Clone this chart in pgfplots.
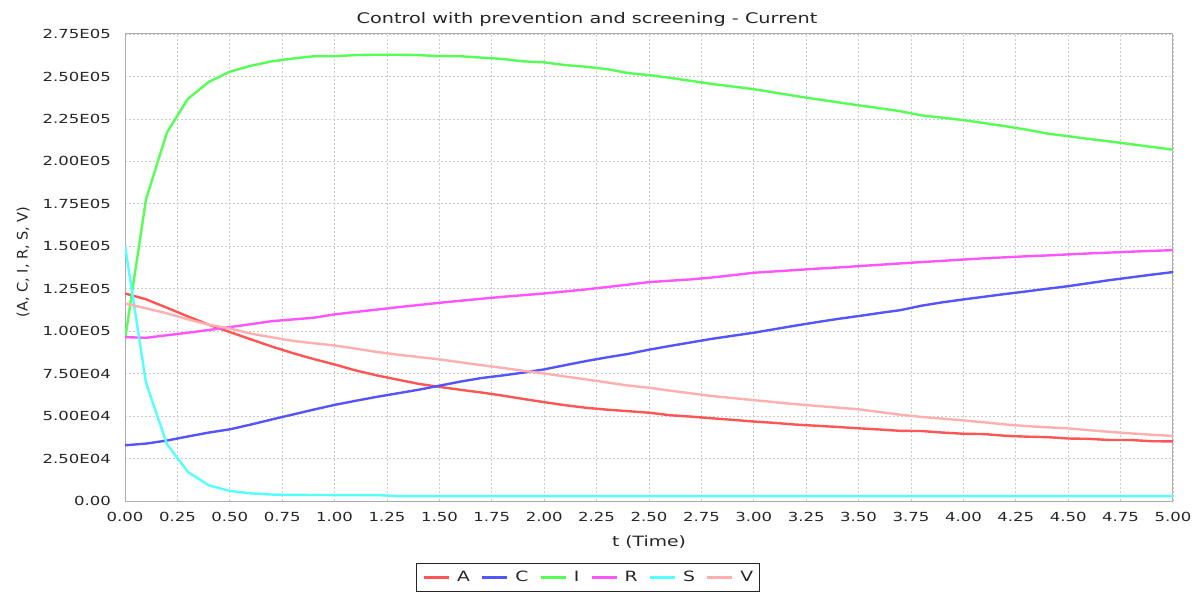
\documentclass[border=0pt]{standalone}
\usepackage{pgfplots}
\pgfplotsset{compat=1.18}
\usepackage{fontspec}
\setmainfont{DejaVu Sans}
\newfontfamily\stfont[FakeStretch=1.32]{DejaVu Sans}
\newfontfamily\plfont{DejaVu Sans}
\newcommand\tickf{\stfont\fontsize{12.5}{14}\selectfont}
\newcommand\labf{\stfont\fontsize{14.2}{16}\selectfont}
\newcommand\titf{\stfont\fontsize{14.6}{16}\selectfont}
\newcommand\ylabf{\plfont\fontsize{14.5}{16}\selectfont}
\definecolor{cA}{RGB}{255,85,85}
\definecolor{cC}{RGB}{85,85,255}
\definecolor{cI}{RGB}{85,255,85}
\definecolor{cR}{RGB}{255,85,255}
\definecolor{cS}{RGB}{85,255,255}
\definecolor{cV}{RGB}{255,175,175}
\begin{document}
\begin{tikzpicture}[x=1pt,y=1pt]
\useasboundingbox (0,0) rectangle (1196,592);
\begin{axis}[
  at={(125pt,91pt)}, anchor=south west, scale only axis,
  width=1048pt, height=467pt,
  xmin=0, xmax=5, ymin=0, ymax=275000,
  xtick={0,0.25,0.5,0.75,1,1.25,1.5,1.75,2,2.25,2.5,2.75,3,3.25,3.5,3.75,4,4.25,4.5,4.75,5},
  xticklabels={0.00,0.25,0.50,0.75,1.00,1.25,1.50,1.75,2.00,2.25,2.50,2.75,3.00,3.25,3.50,3.75,4.00,4.25,4.50,4.75,5.00},
  ytick={0,25000,50000,75000,100000,125000,150000,175000,200000,225000,250000,275000},
  yticklabels={0.00,2.50E04,5.00E04,7.50E04,1.00E05,1.25E05,1.50E05,1.75E05,2.00E05,2.25E05,2.50E05,2.75E05},
  scaled y ticks=false, scaled x ticks=false,
  grid=major,
  major grid style={gray!40, dash pattern=on 2pt off 2pt, line width=0.8pt},
  major tick length=0pt,
  axis line style={gray!65, line width=1pt},
  tick label style={font=\tickf, text=black!85},
  yticklabel style={anchor=east, inner sep=0pt, xshift=-14pt},
  xticklabel style={anchor=north, inner sep=0pt, yshift=-11pt},
  xlabel={t (Time)}, ylabel={(A, C, I, R, S, V)},
  xlabel style={at={(axis description cs:0.5,-0.0979)}, anchor=base, font=\labf, text=black!85},
  ylabel style={at={(axis description cs:-0.0973,0.512)}, anchor=center, font=\ylabf, text=black!85},
  legend columns=6,
  legend style={at={(axis description cs:0.4418,-0.1328)}, anchor=north, draw=black!85, line width=0.8pt,
    font=\labf, text=black!85, inner xsep=6pt, inner ysep=8pt,
    nodes={inner sep=0pt},
    /tikz/every odd column/.append style={column sep=7pt},
    /tikz/every even column/.append style={column sep=11pt}},
  legend image code/.code={\draw[#1, line width=2.4pt] (0pt,0pt) -- (25pt,0pt);},
  every axis plot/.append style={line width=2.4pt, line join=round},
]
\addplot[cA] coordinates {(0,122200)(0.1,118800)(0.2,113800)(0.3,108700)(0.4,103800)(0.5,99500)(0.6,95200)(0.7,91000)(0.8,87100)(0.9,83600)(1.0,80400)(1.1,76900)(1.2,74000)(1.3,71500)(1.4,69000)(1.5,67200)(1.6,65500)(1.7,63900)(1.8,62100)(1.9,60100)(2.0,58200)(2.1,56400)(2.2,54900)(2.3,53800)(2.4,52900)(2.5,52000)(2.6,50500)(2.7,49700)(2.8,48700)(2.9,47800)(3.0,46800)(3.1,46000)(3.2,45000)(3.3,44300)(3.4,43600)(3.5,42800)(3.6,42100)(3.7,41300)(3.8,41200)(3.9,40300)(4.0,39600)(4.1,39400)(4.2,38400)(4.3,37900)(4.4,37600)(4.5,36800)(4.6,36600)(4.7,35900)(4.8,35900)(4.9,35200)(5.0,35100)};
\addlegendentry{A}
\addplot[cC] coordinates {(0,32800)(0.1,33800)(0.2,35600)(0.3,38000)(0.4,40300)(0.5,42200)(0.6,45000)(0.7,48000)(0.8,50900)(0.9,53800)(1.0,56600)(1.1,59000)(1.2,61300)(1.3,63400)(1.4,65500)(1.5,67900)(1.6,70300)(1.7,72400)(1.8,73900)(1.9,75600)(2.0,77500)(2.1,80000)(2.2,82400)(2.3,84600)(2.4,86600)(2.5,89100)(2.6,91300)(2.7,93400)(2.8,95500)(2.9,97300)(3.0,99100)(3.1,101200)(3.2,103300)(3.3,105300)(3.4,107200)(3.5,108900)(3.6,110700)(3.7,112400)(3.8,115000)(3.9,117000)(4.0,118700)(4.1,120300)(4.2,121900)(4.3,123400)(4.4,125000)(4.5,126500)(4.6,128300)(4.7,130100)(4.8,131700)(4.9,133300)(5.0,134800)};
\addlegendentry{C}
\addplot[cI] coordinates {(0,95000)(0.1,177500)(0.2,217000)(0.3,236800)(0.4,246800)(0.5,252800)(0.6,256300)(0.7,258900)(0.8,260500)(0.9,261900)(1.0,261900)(1.1,262600)(1.2,262800)(1.3,262800)(1.4,262600)(1.5,261900)(1.6,261900)(1.7,261100)(1.8,260300)(1.9,258900)(2.0,258300)(2.1,256700)(2.2,255700)(2.3,254300)(2.4,252000)(2.5,250800)(2.6,249200)(2.7,247400)(2.8,245600)(2.9,244100)(3.0,242500)(3.1,240500)(3.2,238500)(3.3,236600)(3.4,234800)(3.5,233000)(3.6,231300)(3.7,229500)(3.8,227100)(3.9,225700)(4.0,224300)(4.1,222500)(4.2,220700)(4.3,218700)(4.4,216400)(4.5,214800)(4.6,213200)(4.7,211700)(4.8,210100)(4.9,208500)(5.0,206900)};
\addlegendentry{I}
\addplot[cR] coordinates {(0,96500)(0.1,96100)(0.2,97600)(0.3,99100)(0.4,100700)(0.5,102400)(0.6,104100)(0.7,105900)(0.8,106900)(0.9,107900)(1.0,109900)(1.1,111300)(1.2,112700)(1.3,114100)(1.4,115400)(1.5,116700)(1.6,117900)(1.7,119100)(1.8,120200)(1.9,121200)(2.0,122200)(2.1,123400)(2.2,124600)(2.3,126000)(2.4,127400)(2.5,128900)(2.6,129700)(2.7,130500)(2.8,131600)(2.9,133000)(3.0,134400)(3.1,135200)(3.2,136000)(3.3,136800)(3.4,137500)(3.5,138300)(3.6,139100)(3.7,139900)(3.8,140700)(3.9,141400)(4.0,142200)(4.1,142900)(4.2,143500)(4.3,144100)(4.4,144600)(4.5,145200)(4.6,145800)(4.7,146300)(4.8,146800)(4.9,147300)(5.0,147700)};
\addlegendentry{R}
\addplot[cS] coordinates {(0,150500)(0.1,69700)(0.2,33500)(0.3,17100)(0.4,9200)(0.5,5900)(0.6,4500)(0.7,3800)(0.8,3600)(1.0,3500)(1.2,3500)(1.3,2900)(2.0,2900)(3.0,2900)(4.0,2900)(5.0,2900)};
\addlegendentry{S}
\addplot[cV] coordinates {(0,116300)(0.1,113500)(0.2,110500)(0.3,107000)(0.4,103800)(0.5,101600)(0.6,98600)(0.7,96400)(0.8,94300)(0.9,92900)(1.0,91600)(1.1,89700)(1.2,87800)(1.3,86200)(1.4,84800)(1.5,83400)(1.6,81700)(1.7,80000)(1.8,78400)(1.9,76700)(2.0,75100)(2.1,73300)(2.2,71600)(2.3,69800)(2.4,68000)(2.5,66700)(2.6,65000)(2.7,63400)(2.8,61800)(2.9,60600)(3.0,59400)(3.1,58200)(3.2,57000)(3.3,56000)(3.4,55000)(3.5,54000)(3.6,52400)(3.7,50800)(3.8,49500)(3.9,48500)(4.0,47500)(4.1,46300)(4.2,45100)(4.3,44100)(4.4,43400)(4.5,42800)(4.6,41700)(4.7,40700)(4.8,39800)(4.9,39000)(5.0,38300)};
\addlegendentry{V}
\end{axis}
\node[font=\titf, text=black!85, anchor=base] at (587,568) {Control with prevention and screening - Current};
\end{tikzpicture}
\end{document}
